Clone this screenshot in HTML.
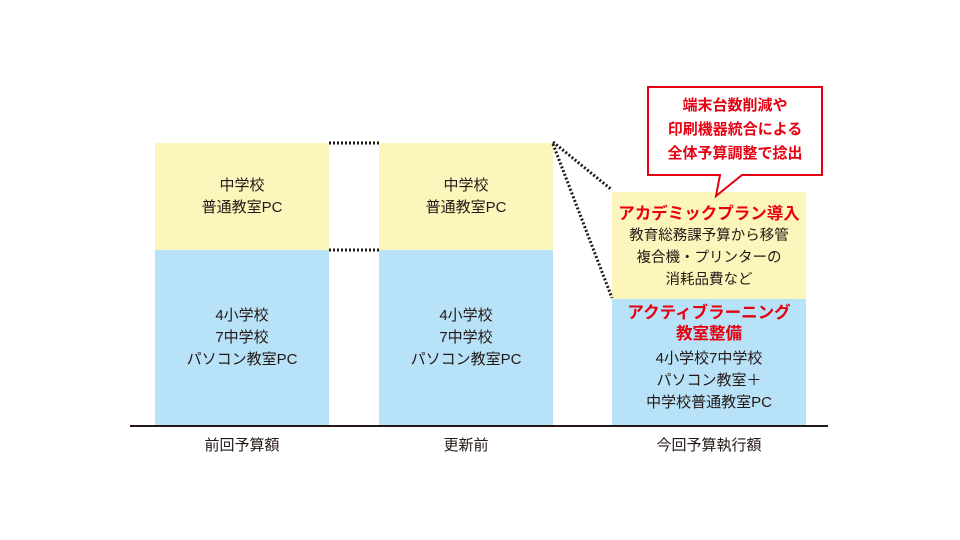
<!DOCTYPE html>
<html><head><meta charset="utf-8"><style>
body{margin:0;width:960px;height:540px;background:#fff;position:relative;overflow:hidden;font-family:"Liberation Sans","Noto Sans CJK JP",sans-serif;color:#231815}
.b{position:absolute;display:flex;flex-direction:column;justify-content:center;align-items:center;text-align:center;font-size:15px;line-height:22px}
.y{background:#fcf6bd}.c{background:#b8e2f7}
.r{color:#e60012;font-weight:bold;font-size:16.5px;line-height:21px}
.l{position:absolute;top:434px;font-size:15px;text-align:center;width:174px}
</style></head><body>
<div class="b y" style="left:155px;top:143px;width:174px;height:107px">中学校<br>普通教室PC</div>
<div class="b c" style="left:155px;top:250px;width:174px;height:175px">4小学校<br>7中学校<br>パソコン教室PC</div>
<div class="b y" style="left:379px;top:143px;width:174px;height:107px">中学校<br>普通教室PC</div>
<div class="b c" style="left:379px;top:250px;width:174px;height:175px">4小学校<br>7中学校<br>パソコン教室PC</div>
<div class="b y" style="left:612px;top:192px;width:194px;height:107px;justify-content:flex-start;padding-top:12px;box-sizing:border-box"><span class="r">アカデミックプラン導入</span><span style="font-size:14.5px">教育総務課予算から移管<br>複合機・プリンターの<br>消耗品費など</span></div>
<div class="b c" style="left:612px;top:299px;width:194px;height:126px;justify-content:flex-start;padding-top:4px;box-sizing:border-box"><span class="r">アクティブラーニング<br>教室整備</span><span style="margin-top:3px">4小学校7中学校<br>パソコン教室＋<br>中学校普通教室PC</span></div>
<svg style="position:absolute;left:0;top:0" width="960" height="540">
<g stroke="#231815" stroke-width="3" stroke-dasharray="2 2" fill="none">
<line x1="329" y1="143" x2="379" y2="143"/><line x1="329" y1="250" x2="379" y2="250"/>
<line x1="553" y1="142" x2="612" y2="190"/><line x1="553" y1="144" x2="612" y2="298"/>
</g>
<line x1="130" y1="426" x2="828" y2="426" stroke="#231815" stroke-width="2"/>
<path d="M648,87 H822 V175 H742 L716,196 L720,175 H648 Z" fill="#fff" stroke="#e60012" stroke-width="2"/>
</svg>
<div class="b" style="left:648px;top:90px;width:174px;height:80px;color:#e60012;font-weight:bold;font-size:15px;line-height:24px">端末台数削減や<br>印刷機器統合による<br>全体予算調整で捻出</div>
<div class="l" style="left:155px">前回予算額</div>
<div class="l" style="left:379px">更新前</div>
<div class="l" style="left:612px;width:194px">今回予算執行額</div>
</body></html>
